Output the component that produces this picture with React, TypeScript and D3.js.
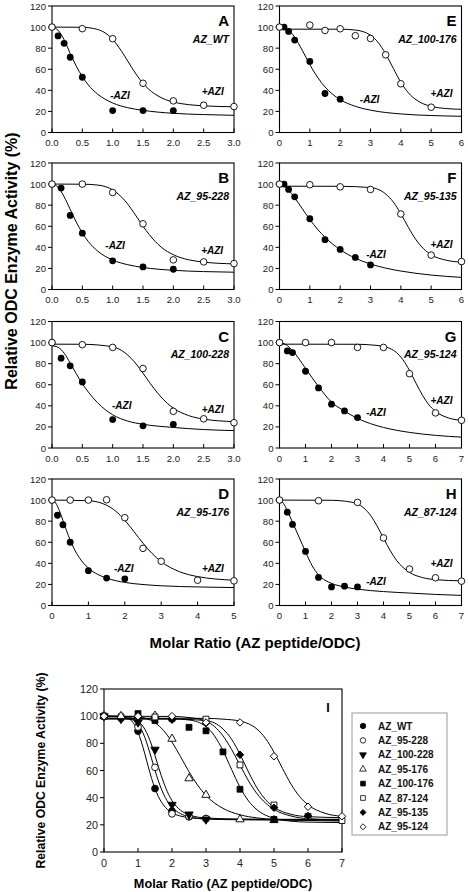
import React from "react";
import * as d3 from "d3";

type Pt = [number, number];

// ================= DATA =================
const panelLetters = ["A", "B", "C", "D", "E", "F", "G", "H"];
const panelNames = ["AZ_WT", "AZ_95-228", "AZ_100-228", "AZ_95-176", "AZ_100-176", "AZ_95-135", "AZ_95-124", "AZ_87-124"];
const panelXMax = [3, 3, 3, 5, 6, 6, 7, 7];
const yTickValues = [0, 20, 40, 60, 80, 100, 120];
const iXTicks = [0, 1, 2, 3, 4, 5, 6, 7];

// measured points: -AZI (filled) and +AZI (open)
const A_minus: Pt[] = [[0, 100], [0.1, 91.6], [0.2, 84.6], [0.3, 71.4], [0.5, 52.4], [1.0, 20.8], [1.5, 20.8], [2.0, 20.8]];
const A_plus: Pt[] = [[0, 100], [0.5, 98.5], [1.0, 89], [1.5, 46.7], [2.0, 30], [2.5, 25.9], [3.0, 24.6]];
const B_minus: Pt[] = [[0, 100], [0.15, 96.2], [0.3, 70.3], [0.5, 53.4], [1.0, 27.2], [1.5, 21.4], [2.0, 19.2]];
const B_plus: Pt[] = [[0, 100], [0.5, 100], [1.0, 92], [1.5, 62.3], [2.0, 28.1], [2.5, 26.2], [3.0, 24.6]];
const C_minus: Pt[] = [[0, 100], [0.15, 85.2], [0.3, 78], [0.5, 62.6], [1.0, 27], [1.5, 21], [2.0, 22.5]];
const C_plus: Pt[] = [[0, 100], [0.5, 98], [1.0, 95.4], [1.5, 75.4], [2.0, 34.8], [2.5, 27.7], [3.0, 24]];
const D_minus: Pt[] = [[0, 100], [0.15, 85.6], [0.3, 76.6], [0.5, 60], [1.0, 33], [1.5, 26], [2.0, 25.3]];
const D_plus: Pt[] = [[0, 100], [0.5, 100], [1.0, 100], [1.5, 100.3], [2.0, 83.3], [2.5, 54.2], [3.0, 42], [4.0, 24], [5.0, 23.4]];
const E_minus: Pt[] = [[0, 100], [0.15, 100], [0.3, 95.9], [0.5, 87.7], [1.0, 67.4], [1.5, 37], [2.0, 31.6]];
const E_plus: Pt[] = [[0, 100], [1.0, 101.9], [1.5, 96.8], [2.0, 98.4], [2.5, 91.8], [3.0, 89.2], [3.5, 73.7], [4.0, 46.2], [5.0, 24]];
const F_minus: Pt[] = [[0, 100], [0.15, 100], [0.3, 94.9], [0.5, 87.9], [1.0, 67.1], [1.5, 47.3], [2.0, 38], [2.5, 30.4], [3.0, 23.3]];
const F_plus: Pt[] = [[0, 100], [1.0, 99.4], [2.0, 97.4], [3.0, 94.9], [4.0, 71.6], [5.0, 32.6], [6.0, 26.5]];
const G_minus: Pt[] = [[0, 100], [0.3, 92.1], [0.5, 90.5], [1.0, 72.8], [1.5, 57], [2.0, 41.6], [2.5, 35.2], [3.0, 28.9]];
const G_plus: Pt[] = [[0, 100], [1, 100], [2, 100], [3, 95.4], [4, 95.4], [5, 70.5], [6, 33.3], [7, 26.3]];
const H_minus: Pt[] = [[0, 100], [0.3, 88.5], [0.5, 76.9], [1.0, 51.3], [1.5, 26.6], [2.0, 17.6], [2.5, 18.3], [3.0, 17.6]];
const H_plus: Pt[] = [[0, 100], [1.5, 99.4], [3.0, 97.8], [4.0, 64.1], [5.0, 34.6], [6.0, 26.3], [7.0, 23.1]];

// fitted curves
const A_minusFit: Pt[] = [[0, 100], [0.1, 97], [0.2, 88], [0.3, 75], [0.4, 63], [0.5, 53], [0.6, 45], [0.75, 36.5], [1.0, 28], [1.25, 23.5], [1.5, 21], [2.0, 18.2], [2.5, 17], [3.0, 16.3]];
const A_plusFit: Pt[] = [[0, 100], [0.5, 99.8], [0.75, 97.8], [1.0, 88.3], [1.1, 81], [1.2, 72.3], [1.3, 63], [1.4, 54.2], [1.5, 46.7], [1.6, 40.8], [1.75, 34.6], [2.0, 28.9], [2.5, 25.3], [3.0, 24.4], [4, 24.1], [5, 24], [7, 24]];
const B_minusFit: Pt[] = [[0, 100], [0.1, 97], [0.2, 88], [0.3, 76], [0.4, 64], [0.5, 53.6], [0.6, 45.4], [0.75, 36.6], [1.0, 28], [1.25, 23.5], [1.5, 20.9], [2.0, 18.2], [2.5, 17], [3.0, 16.4]];
const B_plusFit: Pt[] = [[0, 100], [0.5, 99.9], [0.75, 99.1], [1.0, 94.5], [1.2, 84.4], [1.4, 68.6], [1.5, 60.1], [1.6, 52.3], [1.8, 40.2], [2.0, 33], [2.25, 28.2], [2.5, 26], [3.0, 24.3], [4, 23.7], [5, 23.5], [7, 23.5]];
const C_minusFit: Pt[] = [[0, 97], [0.1, 95.5], [0.2, 90], [0.3, 80.5], [0.4, 70.5], [0.5, 61], [0.6, 53], [0.75, 43], [1.0, 31.5], [1.25, 25.5], [1.5, 22.5], [2.0, 19.5], [2.5, 17.5], [3.0, 16.5]];
const C_plusFit: Pt[] = [[0, 98.5], [0.5, 98.4], [1.0, 96], [1.2, 90.4], [1.4, 78.8], [1.5, 71], [1.62, 61.2], [1.75, 51.5], [1.9, 42.4], [2.0, 37.8], [2.25, 30.8], [2.5, 27.4], [3.0, 25], [4, 24.2], [5, 24], [7, 24]];
const D_minusFit: Pt[] = [[0, 100], [0.1, 97.3], [0.2, 90.2], [0.3, 80.8], [0.4, 70.9], [0.5, 62], [0.6, 54.4], [0.75, 45.4], [1.0, 35.5], [1.25, 29.6], [1.5, 26], [2.0, 21.9], [2.5, 19.9], [3.0, 18.7], [4.0, 17.6], [5.0, 17]];
const D_plusFit: Pt[] = [[0, 100], [1.0, 99.4], [1.5, 95.1], [1.75, 89.5], [2.0, 80.9], [2.25, 70.2], [2.5, 59.1], [2.75, 49.3], [3.0, 41.6], [3.5, 32.1], [4.0, 27.4], [4.5, 25.1], [5.0, 24], [6, 23.2], [7, 22.8]];
const E_minusFit: Pt[] = [[0, 100], [0.25, 98.2], [0.5, 90.4], [0.75, 78], [1.0, 64.4], [1.25, 52.6], [1.5, 43.2], [1.75, 36.3], [2.0, 31.2], [2.5, 24.8], [3.0, 21.2], [4.0, 17.6], [5.0, 16.1], [6.0, 15.4]];
const E_plusFit: Pt[] = [[0, 98], [2.0, 98], [2.5, 97.2], [3.0, 92.3], [3.25, 85.5], [3.5, 74.6], [3.75, 60.9], [4.0, 47.7], [4.25, 37.6], [4.5, 31.1], [4.75, 27.1], [5.0, 24.8], [5.5, 22.7], [6.0, 22], [7, 21.7]];
const F_minusFit: Pt[] = [[0, 100], [0.15, 98.3], [0.3, 94.4], [0.5, 87.1], [0.75, 76.7], [1.0, 66.4], [1.25, 57.3], [1.5, 49.6], [2.0, 37.8], [2.5, 29.7], [3.0, 24.2], [3.5, 20.3], [4.0, 17.5], [5.0, 13.7], [6.0, 11.5]];
const F_plusFit: Pt[] = [[0, 98], [2.0, 97.9], [3.0, 96.7], [3.5, 90.6], [3.75, 83.1], [4.0, 71.9], [4.25, 58.9], [4.5, 47.2], [4.75, 38.6], [5.0, 33], [5.5, 27.75], [6.0, 26], [7.0, 25.3]];
const G_minusFit: Pt[] = [[0, 100], [0.25, 98], [0.5, 92.4], [0.75, 84.5], [1.0, 75.6], [1.25, 66.7], [1.5, 58.4], [2.0, 43.5], [2.5, 35], [3.0, 28.1], [3.5, 23.1], [4, 19.5], [5, 14.8], [6, 12], [7, 10.3]];
const G_plusFit: Pt[] = [[0, 98.5], [3.0, 98.4], [3.5, 97.8], [4.0, 96.4], [4.25, 94.4], [4.5, 90.5], [4.75, 83.6], [5.0, 73.5], [5.25, 61.5], [5.5, 50], [5.75, 40.9], [6.0, 34.8], [6.5, 28.5], [7.0, 26.3]];
const H_minusFit: Pt[] = [[0, 100], [0.15, 97], [0.3, 90], [0.5, 79], [0.75, 65], [1.0, 51], [1.25, 38], [1.5, 29], [1.75, 24], [2.0, 21], [2.5, 17.5], [3.0, 15.5], [4.0, 13.2], [5.0, 11.8], [6.0, 10.5], [7.0, 9.6]];
const H_plusFit: Pt[] = [[0, 100], [2.0, 99.8], [2.5, 99], [3.0, 96.3], [3.5, 85.5], [3.75, 75.6], [4.0, 63.9], [4.25, 52.4], [4.5, 42.9], [5.0, 31.4], [5.5, 26.5], [6.0, 24.5], [7.0, 23.4]];

const minusSets = [A_minus, B_minus, C_minus, D_minus, E_minus, F_minus, G_minus, H_minus];
const plusSets = [A_plus, B_plus, C_plus, D_plus, E_plus, F_plus, G_plus, H_plus];
const minusFits = [A_minusFit, B_minusFit, C_minusFit, D_minusFit, E_minusFit, F_minusFit, G_minusFit, H_minusFit];
const plusFits = [A_plusFit, B_plusFit, C_plusFit, D_plusFit, E_plusFit, F_plusFit, G_plusFit, H_plusFit];

// panel I legend order -> panel index
const iSeriesNames = ["AZ_WT", "AZ_95-228", "AZ_100-228", "AZ_95-176", "AZ_100-176", "AZ_87-124", "AZ_95-135", "AZ_95-124"];
const iSeriesPanel = [0, 1, 2, 3, 4, 7, 5, 6];

// ================= LAYOUT / STYLE =================
const FONT = "'Liberation Sans', Arial, Helvetica, sans-serif";
const COL_X = [52, 279.5];
const ROW_Y = [6, 163, 321.5, 479];
const PW = 182;
const PH = 126.5;
const panelCol = [0, 0, 0, 0, 1, 1, 1, 1];
const panelRow = [0, 1, 2, 3, 0, 1, 2, 3];
const minusLbl: Pt[] = [[1.12, 35.3], [1.04, 41.5], [1.15, 40], [1.97, 35.3], [2.97, 31.6], [3.18, 32.9], [3.71, 33.3], [3.71, 23.1]];
const plusLbl: Pt[] = [[2.65, 39], [2.64, 36.7], [2.65, 36.3], [4.42, 35.3], [5.34, 36.7], [5.34, 43.1], [6.23, 45.4], [6.23, 39.4]];
const I_BOX = { x: 104, y: 689, w: 238, h: 163 };
const iShapes = [
  { type: d3.symbolCircle, fill: true, rot: 0, size: 36 },
  { type: d3.symbolCircle, fill: false, rot: 0, size: 36 },
  { type: d3.symbolTriangle, fill: true, rot: 180, size: 30 },
  { type: d3.symbolTriangle, fill: false, rot: 0, size: 30 },
  { type: d3.symbolSquare, fill: true, rot: 0, size: 34 },
  { type: d3.symbolSquare, fill: false, rot: 0, size: 34 },
  { type: d3.symbolSquare, fill: true, rot: 45, size: 28 },
  { type: d3.symbolSquare, fill: false, rot: 45, size: 28 },
];

function Panel({ i }: { i: number }) {
  const left = COL_X[panelCol[i]];
  const top = ROW_Y[panelRow[i]];
  const xMax = panelXMax[i];
  const x = d3.scaleLinear().domain([0, xMax]).range([left, left + PW]);
  const y = d3.scaleLinear().domain([0, 120]).range([top + PH, top]);
  const line = d3.line<Pt>().x((d) => x(d[0])).y((d) => y(d[1])).curve(d3.curveMonotoneX);
  const clip = (c: Pt[]) => c.filter((d) => d[0] <= xMax + 1e-9);
  const step = xMax === 3 ? 0.5 : 1;
  const fmt = xMax === 3 ? d3.format(".1f") : d3.format("d");
  const xt = d3.range(0, xMax + 1e-9, step);
  const bottom = top + PH;
  return (
    <g>
      <path d={line(clip(minusFits[i])) || ""} fill="none" stroke="#000" strokeWidth={1} />
      <path d={line(clip(plusFits[i])) || ""} fill="none" stroke="#000" strokeWidth={1} />
      {yTickValues.map((v) => (
        <g key={"y" + v}>
          <line x1={left - 4} x2={left} y1={y(v)} y2={y(v)} stroke="#000" strokeWidth={1} />
          <text x={left - 6} y={y(v)} textAnchor="end" dominantBaseline="central" fontSize={9.6} fill="#222">
            {v}
          </text>
        </g>
      ))}
      {xt.map((v) => (
        <g key={"x" + v}>
          <line x1={x(v)} x2={x(v)} y1={bottom} y2={bottom - 4} stroke="#000" strokeWidth={1} />
          <text x={x(v)} y={bottom + 10} textAnchor="middle" dominantBaseline="central" fontSize={9.6} fill="#222">
            {fmt(v)}
          </text>
        </g>
      ))}
      <rect x={left} y={top} width={PW} height={PH} fill="none" stroke="#000" strokeWidth={1.1} />
      {minusSets[i].map((d, k) => (
        <circle key={"m" + k} cx={x(d[0])} cy={y(d[1])} r={3.4} fill="#000" />
      ))}
      {plusSets[i].map((d, k) => (
        <circle key={"p" + k} cx={x(d[0])} cy={y(d[1])} r={3.3} fill="#fff" stroke="#000" strokeWidth={0.9} />
      ))}
      <text x={left + PW - 5} y={top + 20} textAnchor="end" fontSize={15} fontWeight="bold">
        {panelLetters[i]}
      </text>
      <text x={left + PW - 5} y={top + 36.8} textAnchor="end" fontSize={10.5} fontWeight="bold" fontStyle="italic">
        {panelNames[i]}
      </text>
      <text x={x(minusLbl[i][0])} y={y(minusLbl[i][1])} textAnchor="middle" dominantBaseline="central" fontSize={10} fontWeight="bold" fontStyle="italic">
        -AZI
      </text>
      <text x={x(plusLbl[i][0])} y={y(plusLbl[i][1])} textAnchor="middle" dominantBaseline="central" fontSize={10} fontWeight="bold" fontStyle="italic">
        +AZI
      </text>
    </g>
  );
}

function sym(k: number, scale: number) {
  const s = iShapes[k];
  return d3.symbol().type(s.type).size(s.size * scale)() || "";
}

function PanelI() {
  const { x: left, y: top, w, h } = I_BOX;
  const x = d3.scaleLinear().domain([0, 7]).range([left, left + w]);
  const y = d3.scaleLinear().domain([0, 120]).range([top + h, top]);
  const line = d3.line<Pt>().x((d) => x(d[0])).y((d) => y(d[1])).curve(d3.curveMonotoneX);
  const bottom = top + h;
  const lg = { x: 352, y: 713, w: 95, h: 122 };
  return (
    <g>
      {iSeriesPanel.map((p, k) => (
        <path key={"c" + k} d={line(plusFits[p]) || ""} fill="none" stroke="#000" strokeWidth={1} />
      ))}
      {yTickValues.map((v) => (
        <g key={"y" + v}>
          <line x1={left - 4} x2={left} y1={y(v)} y2={y(v)} stroke="#000" />
          <text x={left - 6} y={y(v)} textAnchor="end" dominantBaseline="central" fontSize={10.8} fill="#222">
            {v}
          </text>
        </g>
      ))}
      {iXTicks.map((v) => (
        <g key={"x" + v}>
          <line x1={x(v)} x2={x(v)} y1={bottom} y2={bottom - 4} stroke="#000" />
          <text x={x(v)} y={bottom + 11} textAnchor="middle" dominantBaseline="central" fontSize={10.8} fill="#222">
            {v}
          </text>
        </g>
      ))}
      <rect x={left} y={top} width={w} height={h} fill="none" stroke="#000" strokeWidth={1.1} />
      {iSeriesPanel.map((p, k) =>
        plusSets[p].map((d, j) => (
          <path
            key={"s" + k + "_" + j}
            d={sym(k, 1)}
            transform={`translate(${x(d[0])},${y(d[1])}) rotate(${iShapes[k].rot})`}
            fill={iShapes[k].fill ? "#000" : "#fff"}
            stroke="#000"
            strokeWidth={0.9}
          />
        ))
      )}
      <text x={328} y={712} textAnchor="middle" fontSize={12.5} fontWeight="bold">
        I
      </text>
      <rect x={lg.x} y={lg.y} width={lg.w} height={lg.h} fill="#fff" stroke="#999" strokeWidth={1} />
      {iSeriesNames.map((n, k) => (
        <g key={"l" + k} transform={`translate(0,${lg.y + 13 + k * 14.4})`}>
          <path
            d={sym(k, 0.65)}
            transform={`translate(${lg.x + 11},0) rotate(${iShapes[k].rot})`}
            fill={iShapes[k].fill ? "#000" : "#fff"}
            stroke="#000"
            strokeWidth={0.8}
          />
          <text x={lg.x + 26} y={0} dominantBaseline="central" fontSize={10} fontWeight="bold" fill="#111">
            {n}
          </text>
        </g>
      ))}
      <text x={(left + left + w) / 2} y={887.5} textAnchor="middle" fontSize={12.7} fontWeight="bold">
        Molar Ratio (AZ peptide/ODC)
      </text>
      <text
        transform={`translate(41,${(top + bottom) / 2}) rotate(-90)`}
        textAnchor="middle"
        dominantBaseline="central"
        fontSize={12.2}
        fontWeight="bold"
      >
        Relative ODC Enzyme Activity (%)
      </text>
    </g>
  );
}

export default function App() {
  return (
    <svg
      width={468}
      height={892}
      viewBox="0 0 468 892"
      style={{ position: "absolute", left: 0, top: 0, background: "#fff" }}
      fontFamily={FONT}
    >
      <rect x={0} y={0} width={468} height={892} fill="#fff" />
      {panelLetters.map((_, i) => (
        <Panel key={i} i={i} />
      ))}
      <text
        transform="translate(11,261) rotate(-90)"
        textAnchor="middle"
        dominantBaseline="central"
        fontSize={16}
        fontWeight="bold"
      >
        Relative ODC Enzyme Activity (%)
      </text>
      <text x={255} y={648} textAnchor="middle" fontSize={15} fontWeight="bold">
        Molar Ratio (AZ peptide/ODC)
      </text>
      <PanelI />
    </svg>
  );
}
